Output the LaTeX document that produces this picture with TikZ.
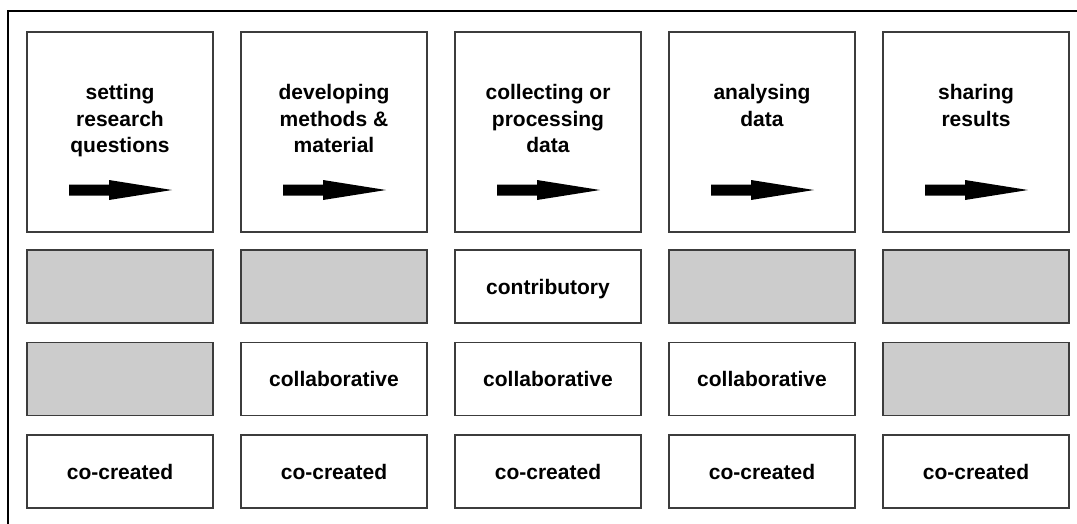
\documentclass[tikz,border=0pt]{standalone}
\usepackage{fontspec}
\setmainfont{Liberation Sans}
\definecolor{cellgrey}{HTML}{CCCCCC}
\definecolor{boxedge}{HTML}{3C3C3C}
\begin{document}
\begin{tikzpicture}[x=1pt,y=-1pt,
  cell/.style={draw=boxedge, line width=1.4pt, minimum width=186pt,
    minimum height=73pt, inner sep=0pt, outer sep=0pt, anchor=north west},
  blank/.style={cell, fill=cellgrey},
  stage/.style={cell, minimum height=200pt},
  heading/.style={font=\bfseries\fontsize{21}{26.7}\selectfont, align=center,
    inner sep=0pt, anchor=north},
  mode/.style={font=\bfseries\fontsize{21}{26.7}\selectfont, inner sep=0pt,
    text height=15pt, text depth=0pt},
  flowarrow/.style={fill=black}]
\useasboundingbox (0,0) rectangle (1077,523);
% outer frame, running past the right and bottom edges
\draw[line width=2.6pt] (8,11) rectangle (1100,560);

% stage headings with their arrows
\foreach \i/\txt in {0/{setting\\research\\questions},
                     1/{developing\\methods \&\\material},
                     2/{collecting or\\processing\\data},
                     3/{analysing\\data},
                     4/{sharing\\results}}{
  \pgfmathsetmacro{\xo}{27+214*\i}
  \node[stage] (stage\i) at (\xo,32) {};
  \node[heading] (title\i) at (\xo+93,84) {\txt};
  \fill[flowarrow] (\xo+42,184.5) -- (\xo+82,184.5) -- (\xo+82,180)
    -- (\xo+145,190) -- (\xo+82,200) -- (\xo+82,195.5) -- (\xo+42,195.5) -- cycle;
}

% participation rows: contributory, collaborative, co-created
\foreach \r/\y/\cells in {1/250/{0,0,1,0,0}, 2/342.5/{0,1,1,1,0}, 3/435/{1,1,1,1,1}}{
  \foreach \on [count=\c from 0] in \cells {
    \pgfmathsetmacro{\xo}{27+214*\c}
    \ifnum\on=0
      \node[blank] (cell\r\c) at (\xo,\y) {};
    \else
      \node[cell] (cell\r\c) at (\xo,\y) {};
      \node[mode] (mode\r\c) at (cell\r\c.center) {\ifcase\r\or contributory\or collaborative\or co-created\fi};
    \fi
  }
}
\end{tikzpicture}
\end{document}
